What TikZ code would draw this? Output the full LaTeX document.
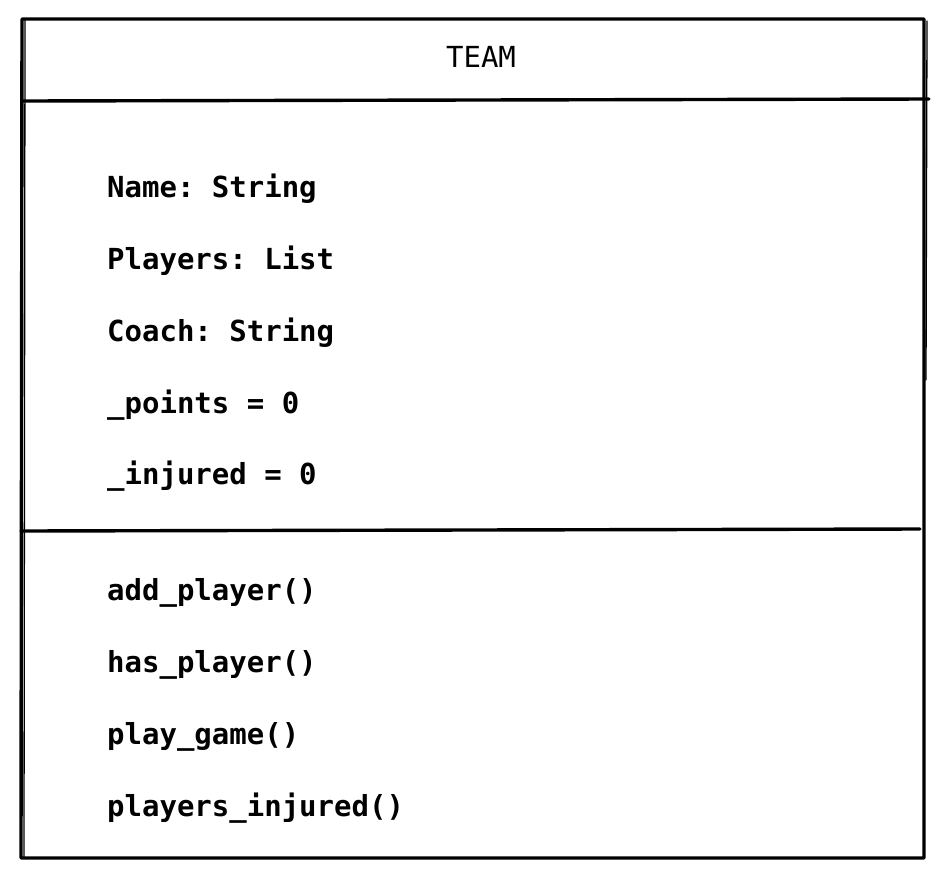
\documentclass[tikz,border=0pt]{standalone}
\usepackage{fontspec}
\setmonofont{DejaVu Sans Mono}
\begin{document}
\begin{tikzpicture}[x=1pt,y=-1pt,
  edge/.style={line width=3.4pt, line cap=round, line join=round},
  thin/.style={line width=1.3pt, line cap=round},
  member/.style={anchor=base west, inner sep=0pt, font=\ttfamily\bfseries\fontsize{29}{31}\selectfont},
  title/.style={anchor=base, inner sep=0pt, font=\ttfamily\fontsize{29}{31}\selectfont}]
\useasboundingbox (0,0) rectangle (951,879);
% corners
\coordinate (tl) at (22,19);
\coordinate (tr) at (924,19);
\coordinate (br) at (924,858);
\coordinate (bl) at (21,858);
\coordinate (h1l) at (23,101);
\coordinate (h1r) at (929,99);
\coordinate (h2l) at (21,531);
\coordinate (h2r) at (920,529);
% outline
\draw[edge] (tl) -- (tr) -- (br) -- (bl) -- cycle;
\draw[thin] (25,20) -- (24,857);
\draw[thin] (927,21) -- (926,380);
\draw[edge] (h1l) -- (h1r);
\draw[edge] (h2l) -- (h2r);
% title
\node[title] (team) at (481,67) {TEAM};
% attributes
\node[member] (a1) at (107,197) {Name: String};
\node[member] (a2) at (107,269) {Players: List};
\node[member] (a3) at (107,341) {Coach: String};
\node[member] (a4) at (107,413) {\_points = 0};
\node[member] (a5) at (107,484) {\_injured = 0};
% methods
\node[member] (m1) at (107,600) {add\_player()};
\node[member] (m2) at (107,672) {has\_player()};
\node[member] (m3) at (107,744) {play\_game()};
\node[member] (m4) at (107,816) {players\_injured()};
\end{tikzpicture}
\end{document}
